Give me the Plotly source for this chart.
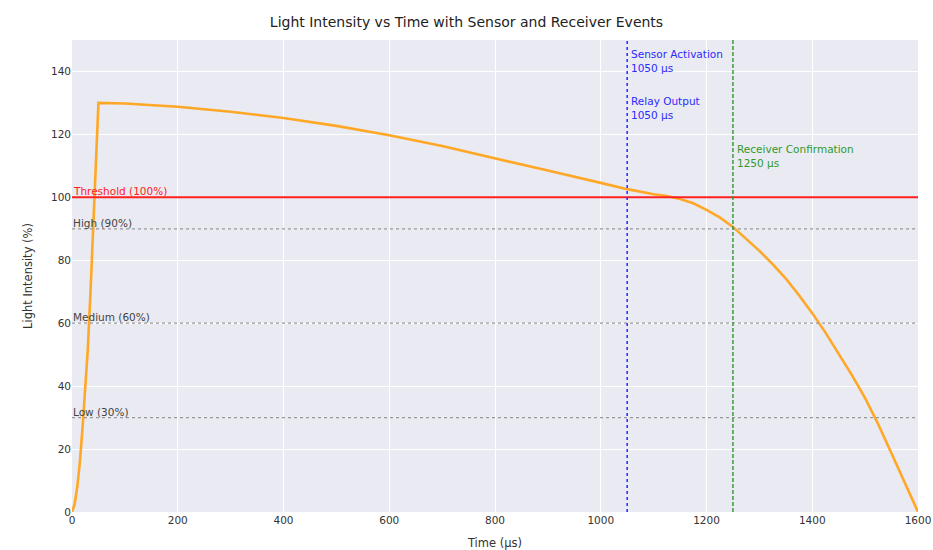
import plotly.graph_objects as go

# Data
time_us = [0, 5, 10, 15, 20, 25, 30, 35, 40, 45, 50, 100, 200, 300, 400, 500, 600, 700, 800,
           900, 1000, 1050, 1100, 1125, 1150, 1175, 1200, 1225, 1250, 1275, 1300, 1325, 1350,
           1375, 1400, 1425, 1450, 1475, 1500, 1525, 1550, 1575, 1600]
intensity = [0, 2.5, 8, 16, 27, 39, 52, 70, 89, 109, 130, 129.8, 128.8, 127.2, 125.2, 122.7,
             119.7, 116.3, 112.5, 108.5, 104.6, 102.6, 101.0, 100.4, 99.5, 98.1, 96.0, 93.6,
             90.6, 86.9, 83.0, 78.8, 74.2, 68.9, 63.2, 57.0, 50.4, 43.5, 36.2, 27.8, 18.6,
             9.5, 0]

threshold_value = 100
threshold_label = "Threshold (100%)"
level_values = [90, 60, 30]
level_labels = ["High (90%)", "Medium (60%)", "Low (30%)"]

sensor_time = 1050
receiver_time = 1250
event_texts = ["Sensor Activation<br>1050 μs", "Relay Output<br>1050 μs", "Receiver Confirmation<br>1250 μs"]
event_x = [1050, 1050, 1250]
event_y = [148, 133, 118]
event_colors = ["#2b2bff", "#2b2bff", "#2e9a2e"]

x_ticks = [0, 200, 400, 600, 800, 1000, 1200, 1400, 1600]
y_ticks = [0, 20, 40, 60, 80, 100, 120, 140]

fig = go.Figure()

fig.add_trace(go.Scatter(x=time_us, y=intensity, mode="lines",
                         line=dict(color="#FFA726", width=2.6),
                         showlegend=False, hoverinfo="x+y"))

# Threshold
fig.add_hline(y=threshold_value, line=dict(color="#FF2020", width=2))
fig.add_annotation(x=0, y=threshold_value, text=threshold_label, xanchor="left", yanchor="bottom",
                   showarrow=False, font=dict(size=10.5, color="#FF2020"), xshift=-1, yshift=-2)

for v, lab in zip(level_values, level_labels):
    fig.add_hline(y=v, line=dict(color="#999999", width=1.2, dash="3px,3px"))
    fig.add_annotation(x=0, y=v, text=lab, xanchor="left", yanchor="bottom", showarrow=False,
                       font=dict(size=10.5, color="#444444"), xshift=-1, yshift=-2)

fig.add_vline(x=sensor_time, line=dict(color="#3333ff", width=1.6, dash="dot"))
fig.add_vline(x=receiver_time, line=dict(color="#2e9a2e", width=1.4, dash="4px,2px"))

for tx, xx, yy, cc in zip(event_texts, event_x, event_y, event_colors):
    fig.add_annotation(x=xx, y=yy, text=tx, xanchor="left", yanchor="top", align="left",
                       showarrow=False, font=dict(size=10.5, color=cc), xshift=2)

fig.update_layout(
    width=933, height=550,
    margin=dict(l=72, r=15, t=40, b=38, autoexpand=False),
    paper_bgcolor="white",
    plot_bgcolor="#EAEAF2",
    font=dict(family="DejaVu Sans, Arial, sans-serif", size=11, color="#333333"),
    title=dict(text="Light Intensity vs Time with Sensor and Receiver Events",
               x=0.5, xanchor="center", y=1 - 22 / 550, yanchor="middle",
               font=dict(size=14, color="#222222")),
    showlegend=False,
)
fig.update_xaxes(range=[0, 1600], tickvals=x_ticks, showgrid=True, gridcolor="white", gridwidth=1.2,
                 zeroline=False, showline=False, ticks="", automargin=False,
                 ticklabeloverflow="allow",
                 tickfont=dict(size=10.5, color="#333333"),
                 title=dict(text="Time (μs)", font=dict(size=11.5, color="#333333")))
fig.update_yaxes(range=[0, 150], tickvals=y_ticks, showgrid=True, gridcolor="white", gridwidth=1.2,
                 zeroline=False, showline=False, ticks="", automargin=False,
                 ticklabeloverflow="allow",
                 tickfont=dict(size=10.5, color="#333333"),
                 title=dict(text="Light Intensity (%)", font=dict(size=11.5, color="#333333")))

fig.write_html("out.html",
               config={"displayModeBar": False},
               post_script="document.body.style.margin='0';document.body.style.overflow='hidden';")
